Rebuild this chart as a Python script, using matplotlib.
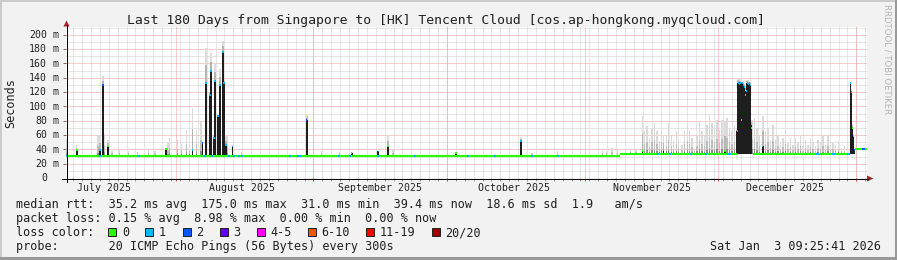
import datetime as dt
import matplotlib
matplotlib.use('Agg')
import matplotlib.pyplot as plt
from matplotlib.patches import Rectangle, Polygon
from matplotlib.lines import Line2D
from matplotlib.transforms import blended_transform_factory, offset_copy

W, H = 897, 260
MONO = 'DejaVu Sans Mono'

title = 'Last 180 Days from Singapore to [HK] Tencent Cloud [cos.ap-hongkong.myqcloud.com]'
end_time = dt.datetime(2026, 1, 3, 9, 25, 41)
span_days = 180
y_top = 210.7
y_ticks = [0, 20, 40, 60, 80, 100, 120, 140, 160, 180, 200]
month_labels = ['July 2025', 'August 2025', 'September 2025', 'October 2025',
                'November 2025', 'December 2025']

# median rtt floor in ms, piecewise over days since start (gaps = median up in a spike)
base_from = [0.0, 124.6, 154.3, 177.4]
base_to = [124.6, 150.8, 176.2, 180.0]
base_ms = [31.1, 33.0, 33.0, 40.2]

# dense smoke spikes: day, dense top, median, light smoke top, lost pings
spike_day = [2.47, 7.58, 8.32, 9.38, 22.42, 28.43, 30.68, 31.42, 32.32, 32.55, 33.22, 33.44,
             34.19, 34.57, 35.31, 35.54, 35.92, 37.43,
             54.07, 64.19, 70.18, 72.36, 87.65, 102.2, 129.55, 134.28, 148.15,
             150.85, 151.08, 151.30, 151.53, 151.75, 151.98, 152.20, 152.43, 152.65, 152.88,
             153.10, 153.33, 153.55, 153.78, 154.0,
             156.55, 176.27, 176.5, 176.72, 176.95, 177.17]
spike_top = [39, 39, 130, 44, 40, 39, 49, 133, 116, 149, 56, 135, 86, 130, 176, 133, 46, 44,
             81, 35, 37, 44, 35, 52, 38, 39, 38,
             65, 133, 132, 134, 133, 133, 131, 128, 119, 122, 133, 132, 133, 130, 74,
             44, 132, 120, 70, 58, 39]
spike_med = [39, 39, 130, 44, 40, 39, 49, 133, 116, 149, 56, 135, 86, 130, 176, 133, 46, 44,
             81, 35, 37, 44, 35, 52, 38, 39, 38,
             65, 132, 131, 133, 81, 132, 130, 127, 116, 121, 132, 131, 132, 129, 70,
             44, 132, 120, 70, 58, 39]
spike_smoke = [42, 60, 142, 53, 41, 98, 52, 182, 120, 175, 60, 161, 90, 152, 191, 137, 58, 46,
               90, 36, 38, 60, 35, 57, 86, 60, 79,
               70, 140, 138, 138, 136, 136, 135, 132, 124, 128, 137, 137, 136, 134, 81,
               86, 134, 124, 75, 62, 41]
spike_loss = [0, 1, 2, 0, 0, 1, 2, 1, 1, 1, 1, 1, 1, 1, 1, 1, 1, 1,
              2, 0, 1, 0, 0, 1, 0, 0, 0,
              1, 1, 1, 1, 0, 1, 1, 1, 0, 1, 1, 1, 1, 1, 0,
              1, 1, 1, 0, 1, 2]

# light smoke only
gray_day = [0.1, 2.3, 7.2, 8.7, 10.3, 12.0, 14.0, 16.0, 18.5, 20.0, 22.9, 23.3, 25.1, 26.0,
            27.1, 27.8, 29.3, 30.3, 36.2, 39.4, 57.4, 61.4, 73.5, 104.7, 110.4, 120.6, 121.4,
            122.7, 123.9, 125.7, 126.8, 128.1,
            130.0, 130.55, 131.13, 131.67, 132.25, 132.79, 133.38, 133.76, 134.88, 135.4, 136.0,
            136.53, 137.13, 137.65, 138.42, 139.0, 139.68, 140.13, 140.67, 141.25, 141.79,
            142.38, 142.92, 143.5, 144.04, 144.56, 145.17, 145.75, 146.29, 146.81, 147.41,
            148.54, 149.12, 149.66, 150.25,
            154.3, 154.75, 155.29, 155.8, 157.15, 157.76, 158.28, 158.89, 159.41, 160.01,
            160.53, 161.14, 161.65, 162.26, 162.78, 163.39, 163.91, 164.51, 165.03, 165.63,
            166.15, 166.76, 167.27, 167.88, 168.4, 169.0, 169.52, 170.13, 170.64, 171.25,
            171.77, 172.38, 172.89, 173.64, 174.25, 174.92]
gray_top = [55, 46, 60, 62, 38, 40, 38, 36, 39, 37, 49, 56, 53, 48,
            67, 47, 67, 79, 58, 36, 37, 36, 40, 35, 37, 38, 38,
            42, 41, 38, 40, 39,
            65, 72, 56, 70, 77, 65, 51, 70, 60, 77, 58,
            51, 65, 53, 46, 65, 74, 65, 56, 42, 60,
            79, 65, 58, 74, 88, 77, 70, 81, 67, 81,
            84, 70, 65, 72,
            81, 84, 70, 58, 65, 70, 53, 74, 53, 60,
            49, 56, 65, 49, 56, 46, 56, 49, 60, 44,
            53, 46, 56, 49, 44, 53, 49, 58, 46, 60,
            46, 49, 46, 51, 42, 44]

# short stretches of the median line with lost pings
loss1_day = [0.16, 7.58, 16.45, 31.2, 32.77, 36.6, 37.7, 38.85, 39.52, 50.31, 52.11, 52.56,
             61.33, 63.8, 70.1, 78.43, 90.35, 96.42, 104.74, 110.59, 133.1, 135.8, 140.52,
             143.9, 148.85, 149.3, 168.86, 172.46, 175.83]
loss2_day = [179.2]

rtt_stats = [35.2, 175.0, 31.0, 39.4, 18.6]
am_s = 1.9
loss_stats = [0.15, 8.98, 0.00, 0.00]
loss_labels = ['0', '1', '2', '3', '4-5', '6-10', '11-19', '20/20']
loss_colors = ['#26ff00', '#00b8ff', '#0059ff', '#5e00ff', '#ff00ff', '#ff5500', '#ff0000', '#a00000']
probe_text = '20 ICMP Echo Pings (56 Bytes) every 300s'
stamp_text = 'Sat Jan  3 09:25:41 2026'

start_time = end_time - dt.timedelta(days=span_days)


def day_of(t):
    return (t - start_time).total_seconds() / 86400.0


def base_at(d):
    v = base_ms[0]
    for a, b in zip(base_from, base_ms):
        if d >= a:
            v = b
    return v


def fx(px):
    return px / W


def fy(py):
    return 1 - py / H


fig = plt.figure(figsize=(W / 100, H / 100), dpi=100, facecolor='#f2f2f2')
x0, x1, yt, yb = 66, 867, 27, 178
ax = fig.add_axes([fx(x0), fy(yb), (x1 - x0) / W, (yb - yt) / H])
ax.set_facecolor('white')
ax.set_xlim(0, span_days)
ax.set_ylim(0, y_top)
for s in ax.spines.values():
    s.set_visible(False)
ax.set_xticks([])
ax.set_yticks([])

dot = (0, (1, 1))
grid_minor = '#cfcfcf'
grid_major = '#f09a9a'
# horizontal grid
for v in range(10, 211, 10):
    c = grid_major if v % 20 == 0 else grid_minor
    ax.axhline(v, color=c, lw=0.72, ls=dot, zorder=0.5, snap=True)

# vertical grid: every second day, red at month starts
epoch = dt.datetime(1970, 1, 1)
k0 = (start_time - epoch).days
minor_days = []
for k in range(k0, k0 + span_days + 2):
    if k % 2 == 0:
        d = day_of(epoch + dt.timedelta(days=k))
        if 0 < d < span_days:
            minor_days.append(d)
month_starts = []
mid_months = []
for y, m in [(2025, 7), (2025, 8), (2025, 9), (2025, 10), (2025, 11), (2025, 12), (2026, 1)]:
    d = day_of(dt.datetime(y, m, 1))
    if 0 < d < span_days:
        month_starts.append(d)
    mid = day_of(dt.datetime(y, m, 1) + dt.timedelta(days=15))
    if 0 < mid < span_days:
        mid_months.append(mid)
for d in minor_days:
    ax.axvline(d, color=grid_minor, lw=0.72, ls=dot, zorder=0.5, snap=True)
for d in month_starts:
    ax.axvline(d, color=grid_major, lw=0.72, ls=dot, zorder=0.6, snap=True)

# light smoke
for d, t in zip(gray_day, gray_top):
    b = base_at(d)
    h = t - b
    ax.bar(d, h, bottom=b, width=0.3, color='#dadada', lw=0, zorder=2)
    ax.bar(d, h * 0.45, bottom=b, width=0.3, color='#bdbdbd', lw=0, zorder=2.1)
    ax.bar(d, h * 0.15, bottom=b, width=0.3, color='#8e8e8e', lw=0, zorder=2.2)

# dense spikes
for d, t, md, sm, ls in zip(spike_day, spike_top, spike_med, spike_smoke, spike_loss):
    b = base_at(d)
    ax.bar(d, sm - t, bottom=t, width=0.4, color='#dcdcdc', lw=0, zorder=2.5)
    ax.bar(d, (sm - t) * 0.5, bottom=t, width=0.4, color='#b4b4b4', lw=0, zorder=2.6)
    ax.bar(d, t - b, bottom=b, width=0.4, color='#1e1e1e', lw=0, zorder=3)
    ax.bar(d, 2.6, bottom=md - 1.3, width=0.35, color=loss_colors[ls], lw=0, zorder=4)

# median line
ax.hlines(base_ms, base_from, base_to, color=loss_colors[0], lw=1.5, zorder=3.5)
for d in loss1_day:
    ax.hlines(base_at(d), d - 0.25, d + 0.25, color=loss_colors[1], lw=1.5, zorder=3.6)
for d in loss2_day:
    ax.hlines(base_at(d), d - 0.25, d + 0.25, color=loss_colors[2], lw=1.5, zorder=3.6)

# ticks under x axis and left of y axis
tr = blended_transform_factory(ax.transData, ax.transAxes)
tk = 3.0 / (yb - yt)
ax.vlines(minor_days, -tk, 0, color='#9a9a9a', lw=0.72, transform=tr, clip_on=False, snap=True)
ax.vlines(month_starts, -tk, 0, color='#e05050', lw=0.72, transform=tr, clip_on=False, snap=True)
ax.hlines(y_ticks[1:], -0.0035, 0, color='#707070', lw=0.72,
          transform=blended_transform_factory(ax.transAxes, ax.transData), clip_on=False,
          snap=True)

# axes lines and arrows
fig.add_artist(Line2D([fx(62), fx(868)], [fy(yb + 0.5), fy(yb + 0.5)], color='black',
                      lw=0.72, snap=True))
fig.add_artist(Line2D([fx(x0 + 0.5), fx(x0 + 0.5)], [fy(182), fy(25)], color='black',
                      lw=0.72, snap=True))
fig.add_artist(Polygon([(fx(867), fy(175.5)), (fx(867), fy(181.5)), (fx(873.5), fy(yb + 0.5))],
                       closed=True, color='#a02828', lw=0))
fig.add_artist(Polygon([(fx(63.5), fy(26.5)), (fx(69.5), fy(26.5)), (fx(x0 + 0.5), fy(20.5))],
                       closed=True, color='#a02828', lw=0))

# y labels: number right aligned, unit separate
ty = offset_copy(blended_transform_factory(fig.transFigure, ax.transData), fig=fig, y=-3.4, units='dots')
for v in y_ticks:
    fig.text(fx(47.2), v, '%d' % v, transform=ty, ha='right', va='baseline',
             family=MONO, fontsize=7.15, color='#202020')
    if v:
        fig.text(fx(52.6), v, 'm', transform=ty, ha='left', va='baseline',
                 family=MONO, fontsize=7.15, color='#202020')

# month labels
tx = blended_transform_factory(ax.transData, fig.transFigure)
for d, lab in zip(mid_months, month_labels):
    ax.text(d, fy(190.8), lab, transform=tx, ha='center', va='baseline',
            family=MONO, fontsize=7.15, color='#202020')

fig.text(fx(446.2), fy(24.2), title, ha='center', va='baseline', family=MONO,
         fontsize=9.45, color='#202020')
fig.text(fx(10.5), fy(103), 'Seconds', rotation=90, ha='center', va='center',
         family=MONO, fontsize=8.5, color='#202020')
fig.text(fx(886.5), fy(4), 'RRDTOOL / TOBI OETIKER', rotation=270, ha='center', va='top',
         family='DejaVu Sans', fontsize=6.1, color='#b4b4b4')

line1 = ('median rtt:  %.1f ms avg  %.1f ms max  %.1f ms min  %.1f ms now  %.1f ms sd  %.1f   am/s'
         % (rtt_stats[0], rtt_stats[1], rtt_stats[2], rtt_stats[3], rtt_stats[4], am_s))
line2 = ('packet loss: %.2f %% avg  %.2f %% max  %.2f %% min  %.2f %% now'
         % tuple(loss_stats))
fs = 8.5
fig.text(fx(16), fy(208.3), line1, ha='left', va='baseline', family=MONO, fontsize=fs, color='#202020')
fig.text(fx(16), fy(222), line2, ha='left', va='baseline', family=MONO, fontsize=fs, color='#202020')
fig.text(fx(16), fy(236), 'loss color:', ha='left', va='baseline', family=MONO, fontsize=fs, color='#202020')
fig.text(fx(16), fy(250), 'probe:       ' + probe_text, ha='left', va='baseline', family=MONO,
         fontsize=fs, color='#202020')
fig.text(fx(880.5), fy(250), stamp_text, ha='right', va='baseline', family=MONO, fontsize=fs,
         color='#202020')

bx = 108.3
for lab, col in zip(loss_labels, loss_colors):
    fig.add_artist(Rectangle((fx(bx), fy(236.3)), 8 / W, 8 / H, facecolor=col,
                             edgecolor='#202020', lw=0.7, transform=fig.transFigure))
    fig.text(fx(bx + 13.6), fy(236), lab, ha='left', va='baseline', family=MONO,
             fontsize=fs, color='#202020')
    bx += 30 + 7.1 * len(lab)

# 3d frame
fig.add_artist(Rectangle((0, fy(2)), 1, 2 / H, color='#cbcbcb', lw=0, transform=fig.transFigure))
fig.add_artist(Rectangle((0, 0), 2 / W, 1, color='#cbcbcb', lw=0, transform=fig.transFigure))
fig.add_artist(Rectangle((0, 0), 1, 3 / H, color='#9a9a9a', lw=0, transform=fig.transFigure))
fig.add_artist(Rectangle((fx(W - 2), 0), 2 / W, 1, color='#9a9a9a', lw=0, transform=fig.transFigure))

fig.savefig('out.png', dpi=100, facecolor=fig.get_facecolor())
